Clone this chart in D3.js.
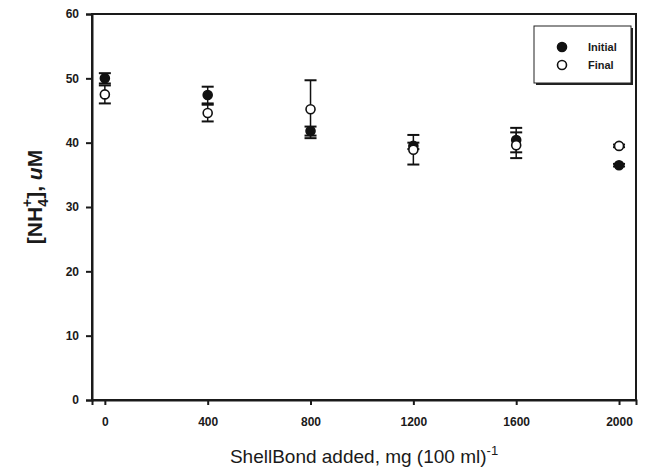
<!DOCTYPE html>
<html>
<head>
<meta charset="utf-8">
<script src="https://d3js.org/d3.v7.min.js"></script>
<style>
    body { margin: 0; background: #fff; }
    svg { display: block; font-family: "Liberation Sans", Arial, sans-serif; }
    .tick text { fill: #1a1a1a; font-size: 12px; font-weight: bold; }
</style>
</head>
<body>
<svg id="chart"></svg>
<script>
    // values
    var doses = [0, 400, 800, 1200, 1600, 2000];
    var initialMean = [50.0, 47.4, 41.8, 39.5, 40.4, 36.5];
    var initialErr = [0.8, 1.3, 0.7, 0.5, 1.9, 0.2];
    var finalMean = [47.5, 44.6, 45.2, 38.9, 39.6, 39.5];
    var finalErr = [1.4, 1.3, 4.5, 2.3, 2.0, 0.2];
    var xTicks = [0, 400, 800, 1200, 1600, 2000];
    var yTicks = [0, 10, 20, 30, 40, 50, 60];

    var screen = {width: 647, height: 474};
    var plot = {left: 92, right: 636, top: 14, bottom: 400};

    var svg = d3.select("#chart")
        .attr("width", screen.width)
        .attr("height", screen.height);

    var x = d3.scaleLinear().domain([-50, 2066]).range([plot.left, plot.right]);
    var y = d3.scaleLinear().domain([0, 60]).range([plot.bottom, plot.top]);

    // frame
    svg.append("rect")
        .attr("x", plot.left)
        .attr("y", plot.top)
        .attr("width", plot.right - plot.left)
        .attr("height", plot.bottom - plot.top)
        .attr("fill", "none")
        .attr("stroke", "#1a1a1a")
        .attr("stroke-width", 2);

    var xAxis = svg.append("g")
        .attr("transform", "translate(0," + plot.bottom + ")")
        .call(d3.axisBottom(x).tickValues(xTicks).tickSize(5).tickPadding(12).tickFormat(d3.format("d")));
    var yAxis = svg.append("g")
        .attr("transform", "translate(" + plot.left + ",0)")
        .call(d3.axisLeft(y).tickValues(yTicks).tickSize(6).tickPadding(7));
    [xAxis, yAxis].forEach(function(a) {
        a.select(".domain").attr("stroke", "#1a1a1a").attr("stroke-width", 2);
        a.selectAll(".tick line").attr("stroke", "#1a1a1a").attr("stroke-width", 2);
    });

    var series = [
        {name: "Initial", mean: initialMean, err: initialErr, fill: "#111"},
        {name: "Final", mean: finalMean, err: finalErr, fill: "#fff"}
    ];

    var capW = 6;
    series.forEach(function(s) {
        var g = svg.append("g");
        var pts = doses.map(function(d, i) { return {x: d, m: s.mean[i], e: s.err[i]}; });
        var bars = g.selectAll("g.bar").data(pts).enter().append("g").attr("class", "bar");
        bars.append("line")
            .attr("x1", function(d) { return x(d.x); })
            .attr("x2", function(d) { return x(d.x); })
            .attr("y1", function(d) { return y(d.m - d.e); })
            .attr("y2", function(d) { return y(d.m + d.e); })
            .attr("stroke", "#111").attr("stroke-width", 1.5);
        [-1, 1].forEach(function(sgn) {
            bars.append("line")
                .attr("x1", function(d) { return x(d.x) - capW; })
                .attr("x2", function(d) { return x(d.x) + capW; })
                .attr("y1", function(d) { return y(d.m + sgn * d.e); })
                .attr("y2", function(d) { return y(d.m + sgn * d.e); })
                .attr("stroke", "#111").attr("stroke-width", 2);
        });
    });
    series.forEach(function(s) {
        svg.append("g").selectAll("circle")
            .data(doses.map(function(d, i) { return {x: d, m: s.mean[i]}; }))
            .enter().append("circle")
            .attr("cx", function(d) { return x(d.x); })
            .attr("cy", function(d) { return y(d.m); })
            .attr("r", 4.5)
            .attr("fill", s.fill)
            .attr("stroke", "#111")
            .attr("stroke-width", 1.6);
    });

    // legend
    var leg = svg.append("g").attr("transform", "translate(534,26)");
    leg.append("rect").attr("x", 2).attr("y", 2).attr("width", 97).attr("height", 57).attr("fill", "#222");
    leg.append("rect").attr("width", 97).attr("height", 57).attr("fill", "#fff").attr("stroke", "#222").attr("stroke-width", 1);
    series.forEach(function(s, i) {
        leg.append("circle").attr("cx", 28).attr("cy", 21 + i * 18).attr("r", 4.5)
            .attr("fill", s.fill).attr("stroke", "#111").attr("stroke-width", 1.6);
        leg.append("text").attr("x", 54).attr("y", 25 + i * 18)
            .attr("font-size", 11).attr("font-weight", "bold").attr("fill", "#1a1a1a").text(s.name);
    });

    // axis titles
    var xt = svg.append("text")
        .attr("x", (plot.left + plot.right) / 2)
        .attr("y", 463)
        .attr("text-anchor", "middle")
        .attr("font-size", 19)
        .attr("fill", "#1a1a1a");
    xt.append("tspan").text("ShellBond added, mg (100 ml)");
    xt.append("tspan").attr("dy", -8).attr("font-size", 13).text("-1");

    var yt = svg.append("text")
        .attr("transform", "translate(42,197) rotate(-90)")
        .attr("text-anchor", "middle")
        .attr("font-size", 21)
        .attr("font-weight", "bold")
        .attr("fill", "#1a1a1a");
    yt.append("tspan").text("[NH");
    yt.append("tspan").attr("dy", 6).attr("font-size", 14).text("4");
    yt.append("tspan").attr("dx", -8).attr("dy", -16).attr("font-size", 14).text("+");
    yt.append("tspan").attr("dy", 10).text("], ");
    yt.append("tspan").attr("font-style", "italic").text("u");
    yt.append("tspan").text("M");
</script>
</body>
</html>
